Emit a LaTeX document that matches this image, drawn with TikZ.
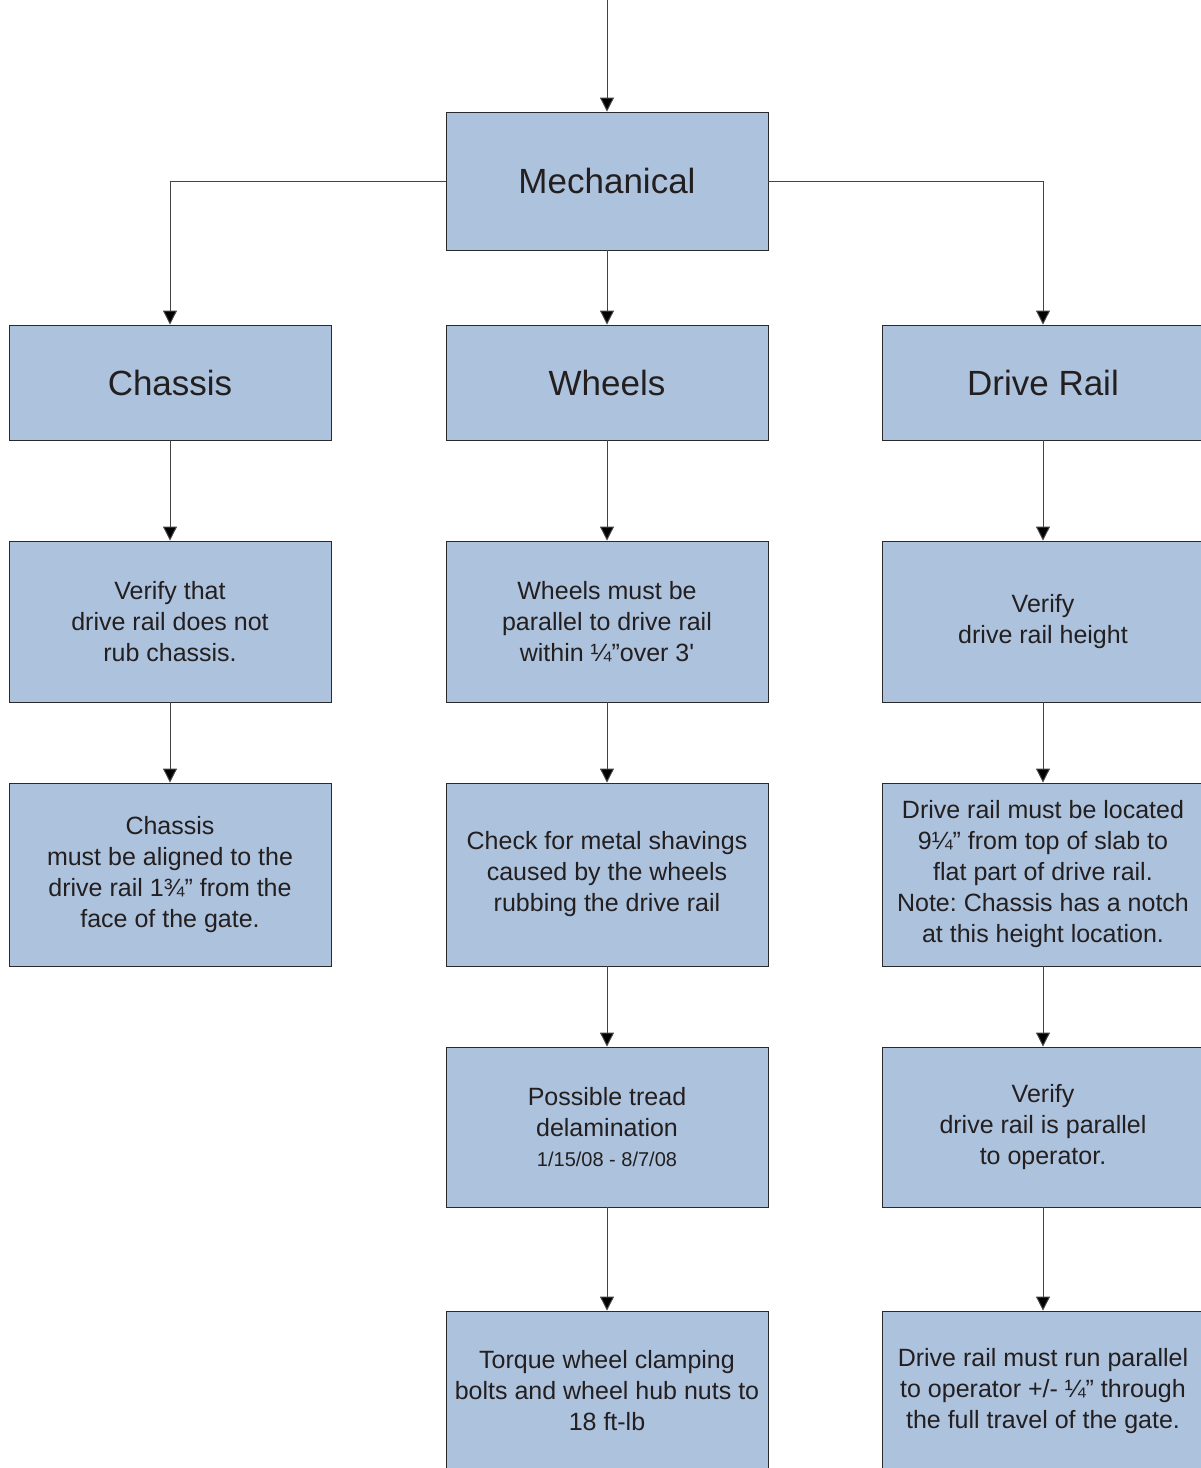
\documentclass[tikz,border=0pt]{standalone}
\usepackage{fontspec}
\setmainfont{Liberation Sans}
\usetikzlibrary{arrows.meta}
\definecolor{boxfill}{HTML}{ADC2DC}
\definecolor{boxline}{HTML}{2A2A2A}
\definecolor{wire}{HTML}{444444}
\definecolor{ink}{HTML}{231F20}
\frenchspacing
\begin{document}
\begin{tikzpicture}[x=1pt,y=-1pt,
  box/.style={draw=boxline, line width=0.9pt, fill=boxfill, text=ink,
    minimum width=322pt, inner sep=0pt, align=center,
    font=\fontsize{25}{31}\selectfont},
  head/.style={box, font=\fontsize{35}{42}\selectfont},
  link/.style={draw=wire, line width=1pt, -{Triangle[length=14pt,width=14pt,fill=black]}}
]
\useasboundingbox (0,0) rectangle (1201,1468);

% top level
\node[head, minimum height=138pt] (mech) at (607,181) {Mechanical};
\coordinate (entry) at (607,0);

% second level
\node[head, minimum height=115pt] (chassis) at (170,382.5) {Chassis};
\node[head, minimum height=115pt] (wheels) at (607,382.5) {Wheels};
\node[head, minimum height=115pt] (rail) at (1043,382.5) {Drive Rail};

% chassis column
\node[box, minimum height=161pt] (c1) at (170,621.5) {Verify that\\drive rail does not\\rub chassis.};
\node[box, minimum height=183pt] (c2) at (170,874.5) {Chassis\\must be aligned to the\\drive rail 1¾” from the\\face of the gate.};

% wheels column
\node[box, minimum height=161pt] (w1) at (607,621.5) {Wheels must be\\parallel to drive rail\\within ¼”over 3\textquotesingle};
\node[box, minimum height=183pt] (w2) at (607,874.5) {Check for metal shavings\\caused by the wheels\\rubbing the drive rail};
\node[box, minimum height=160pt] (w3) at (607,1127) {Possible tread\\delamination\\[-1pt]{\fontsize{20}{24}\selectfont 1/15/08 - 8/7/08}};
\node[box, minimum height=160pt] (w4) at (607,1391) {Torque wheel clamping\\bolts and wheel hub nuts to\\18 ft-lb};

% drive rail column
\node[box, minimum height=161pt] (r1) at (1043,621.5) {Verify\\drive rail height};
\node[box, minimum height=183pt] (r2) at (1043,874.5) {Drive rail must be located\\9¼” from top of slab to\\flat part of drive rail.\\Note: Chassis has a notch\\at this height location.};
\node[box, minimum height=160pt] (r3) at (1043,1127) {Verify\\drive rail is parallel\\to operator.};
\node[box, minimum height=160pt] (r4) at (1043,1391) {Drive rail must run parallel\\to operator +/- ¼” through\\the full travel of the gate.};

% connectors
\draw[link] (entry) -- (mech.north);
\draw[link] (mech.west) -| (chassis.north);
\draw[link] (mech.south) -- (wheels.north);
\draw[link] (mech.east) -| (rail.north);

\draw[link] (chassis.south) -- (c1.north);
\draw[link] (c1.south) -- (c2.north);

\draw[link] (wheels.south) -- (w1.north);
\draw[link] (w1.south) -- (w2.north);
\draw[link] (w2.south) -- (w3.north);
\draw[link] (w3.south) -- (w4.north);

\draw[link] (rail.south) -- (r1.north);
\draw[link] (r1.south) -- (r2.north);
\draw[link] (r2.south) -- (r3.north);
\draw[link] (r3.south) -- (r4.north);
\end{tikzpicture}
\end{document}
